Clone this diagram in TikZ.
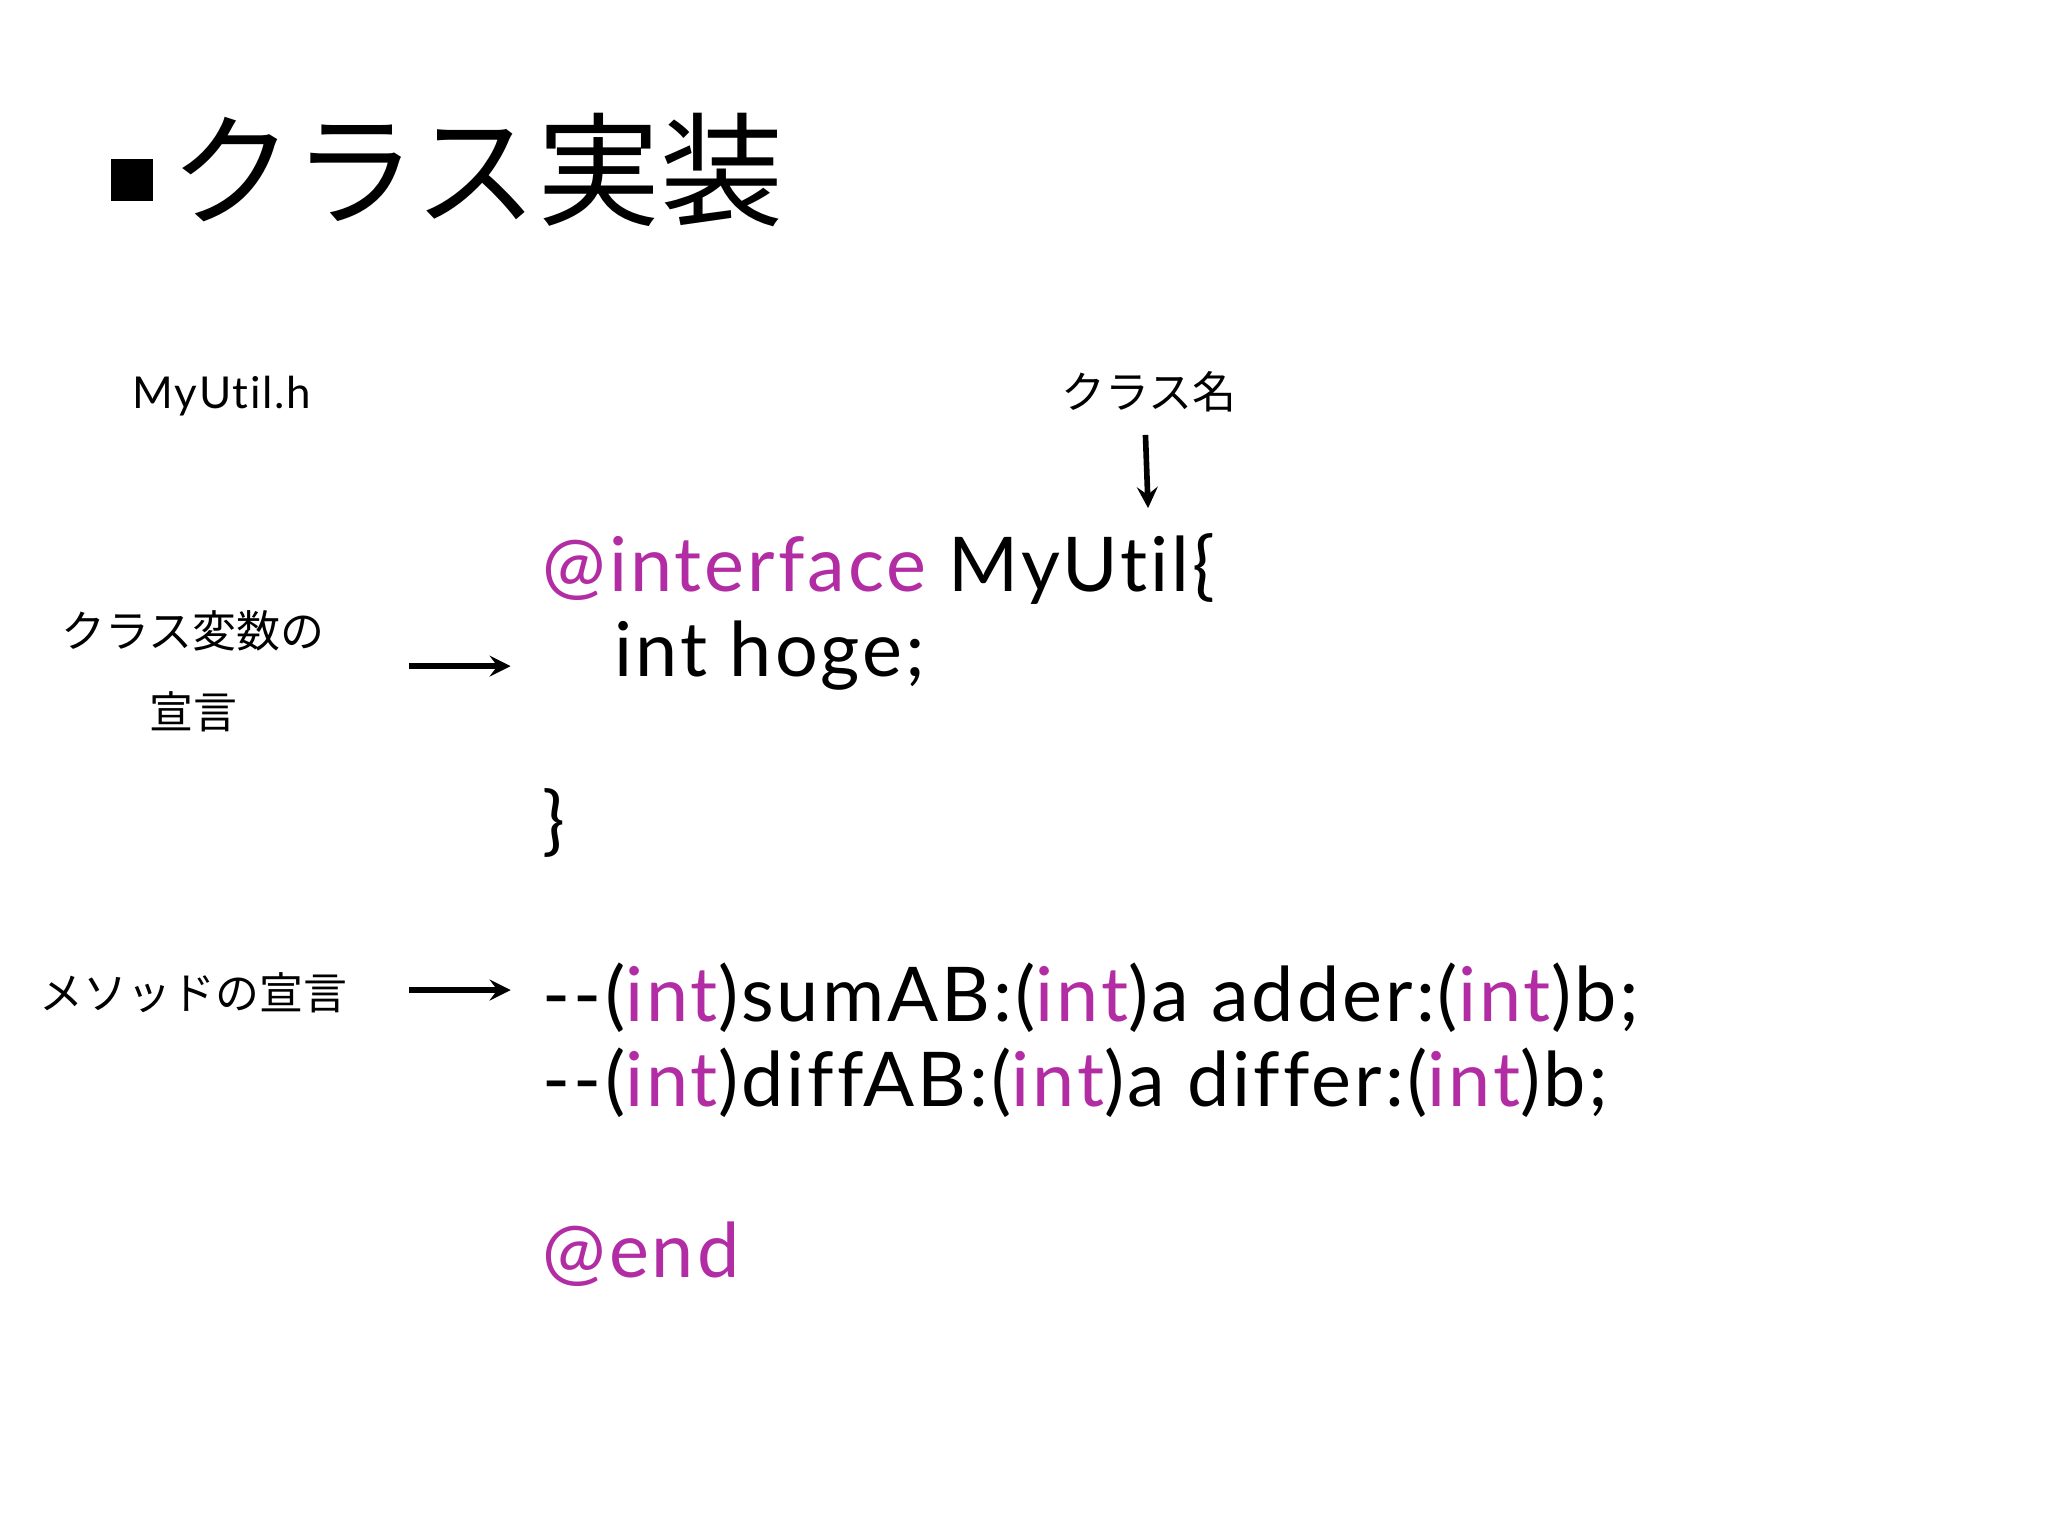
\documentclass[tikz,border=0pt]{standalone}
\usepackage{fontspec}
\setmainfont{Lato}[Ligatures=NoCommon]
\newfontfamily\codefont{Lato}[Ligatures=NoCommon,LetterSpace=4]
\newfontfamily\jp{Noto Sans CJK JP}
\definecolor{kw}{RGB}{178,44,163}
\begin{document}
\begin{tikzpicture}[x=0.013061cm,y=-0.013061cm,
  code/.style={anchor=base west,inner sep=0pt,font=\codefont\fontsize{21.5}{25}\selectfont},
  lbl/.style={inner sep=0pt,font=\jp\fontsize{12.5}{15}\selectfont},
  arr/.style={-stealth,line width=1.6pt}]
\useasboundingbox[fill=white] (0,0) rectangle (1568,1176);
\node[fill=black,minimum size=0.42cm,inner sep=0pt] (bullet) at (101,138) {};
\node[anchor=west,inner sep=0pt,font=\jp\fontsize{35}{40}\selectfont] (title) at (130,130) {クラス実装};
\node[inner sep=0pt,font=\codefont\fontsize{12.5}{14}\selectfont] (file) at (170,303) {MyUtil.h};
\node[lbl] (cname) at (880,300) {クラス名};
\node[lbl] (var1) at (148,483) {クラス変数の};
\node[lbl] (var2) at (148,545) {宣言};
\node[lbl] (meth) at (148,760) {メソッドの宣言};
\node[code] (l1) at (415,453) {\textcolor{kw}{@interface} MyUtil\{};
\node[code] (l2) at (470,518) {int hoge;};
\node[code] (l3) at (415,648) {\}};
\node[code] (l4) at (415,782) {--(\textcolor{kw}{int})sumAB:(\textcolor{kw}{int})a adder:(\textcolor{kw}{int})b;};
\node[code] (l5) at (415,847) {--(\textcolor{kw}{int})diffAB:(\textcolor{kw}{int})a differ:(\textcolor{kw}{int})b;};
\node[code] (l6) at (415,978) {\textcolor{kw}{@end}};
\coordinate (a1s) at (313,510); \coordinate (a1e) at (391,510);
\coordinate (a2s) at (313,758); \coordinate (a2e) at (391,758);
\coordinate (a3s) at (877,333); \coordinate (a3e) at (879,389);
\draw[arr] (a1s) -- (a1e);
\draw[arr] (a2s) -- (a2e);
\draw[arr] (a3s) -- (a3e);
\end{tikzpicture}
\end{document}
